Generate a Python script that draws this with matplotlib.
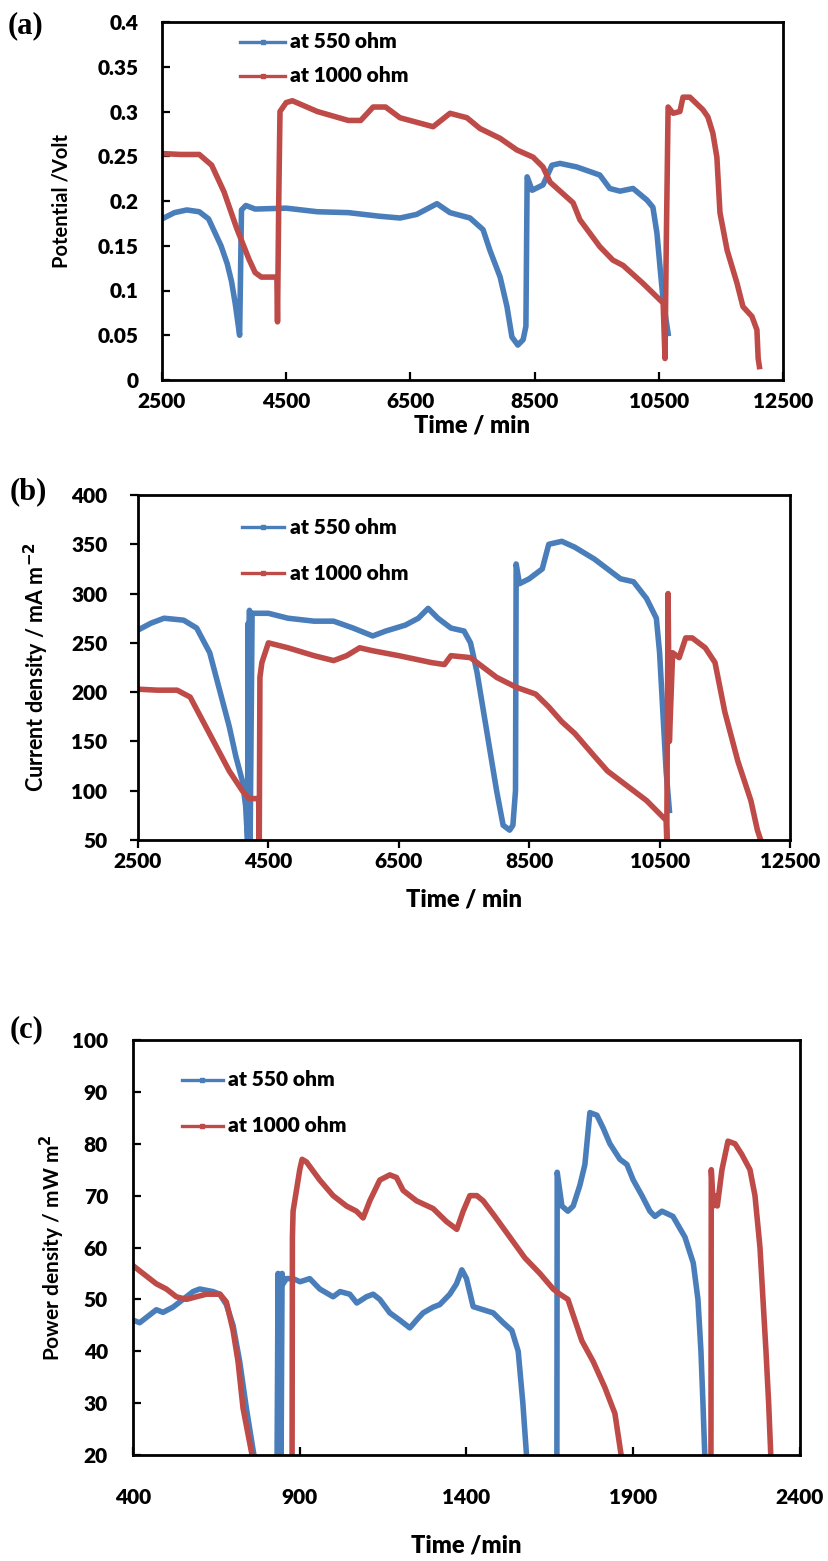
import matplotlib
matplotlib.use("Agg")
import matplotlib.pyplot as plt
import numpy as np

nan = float("nan")
# ---------------- data ----------------
# Panel (a): potential (V) vs time (min)
a_t550 = [2500, 2700, 2900, 3100, 3250, 3350, 3450, 3550, 3620, 3680, 3720, 3750, 3765, 3780, 3850, 4000,
          4500, 5000, 5500, 6000, 6333, 6600, 6928, 7138, 7460, 7670, 7780, 7945, 8055, 8135, 8230, 8315,
          8360, 8380, 8460, 8635, 8780, 8910, 9180, 9550, 9710, 9875, 10085, 10310, 10405, 10470, 10520,
          10570, 10650]
a_v550 = [0.180, 0.187, 0.190, 0.188, 0.180, 0.165, 0.150, 0.130, 0.110, 0.085, 0.065, 0.050, 0.120, 0.190,
          0.195, 0.191, 0.192, 0.188, 0.187, 0.183, 0.181, 0.185, 0.197, 0.187, 0.181, 0.168, 0.145, 0.115,
          0.082, 0.048, 0.039, 0.045, 0.060, 0.227, 0.212, 0.218, 0.240, 0.242, 0.238, 0.229, 0.214, 0.211,
          0.214, 0.201, 0.193, 0.164, 0.126, 0.089, 0.052]
a_t1000 = [2500, 2800, 3100, 3300, 3500, 3700, 3900, 4000, 4100, 4350, 4360, 4380, 4400, 4500, 4600, 5000,
           5500, 5700, 5900, 6100, 6333, 6866, 7138, 7411, 7620, 7945, 8215, 8475, 8635, 8750, 9120, 9230,
           9550, 9760, 9925, 10245, 10570, 10600, 10620, 10650, 10730, 10840, 10890, 11000, 11210, 11290,
           11370, 11435, 11485, 11600, 11760, 11855, 12000, 12080, 12100, 12120]
a_v1000 = [0.253, 0.252, 0.252, 0.240, 0.210, 0.170, 0.135, 0.120, 0.115, 0.115, 0.065, 0.200, 0.300, 0.310,
           0.312, 0.300, 0.290, 0.290, 0.305, 0.305, 0.293, 0.283, 0.298, 0.293, 0.281, 0.270, 0.257, 0.249,
           0.238, 0.221, 0.198, 0.179, 0.149, 0.134, 0.128, 0.108, 0.086, 0.024, 0.150, 0.305, 0.298, 0.300,
           0.316, 0.316, 0.302, 0.294, 0.276, 0.249, 0.187, 0.145, 0.108, 0.082, 0.071, 0.056, 0.024, 0.015]

# Panel (b): current density (mA m^-2) vs time (min)
b_t550 = [2500, 2700, 2900, 3200, 3400, 3600, 3700, 3800, 3900, 4000, 4100, 4150, 4180, 4190, 4200, 4210,
          4220, 4250, 4500, 4800, 5200, 5500, 5800, 6100, 6300, 6600, 6800, 6950, 7100, 7300, 7500, 7600,
          7700, 7800, 7900, 8000, 8100, 8200, 8250, 8290, 8300, 8350, 8500, 8700, 8800, 9000, 9200, 9500,
          9700, 9900, 10100, 10300, 10450, 10500, 10550, 10600, 10650]
b_c550 = [263, 270, 275, 273, 265, 240, 215, 190, 165, 135, 110, 85, 50, 270, 50, 283, 50, 280, 280, 275,
          272, 272, 265, 257, 262, 268, 275, 285, 275, 265, 262, 250, 220, 180, 140, 100, 65, 60, 65, 100,
          330, 310, 315, 325, 350, 353, 347, 335, 325, 315, 312, 295, 275, 240, 180, 120, 80]
b_t1000 = [2500, 2800, 3100, 3300, 3500, 3700, 3900, 4100, 4200, 4350, 4360, 4370, 4400, 4500, 4800, 5200,
           5500, 5700, 5900, 6100, 6500, 7000, 7200, 7300, 7600, 8000, 8300, 8600, 8800, 9000, 9200, 9500,
           9700, 10000, 10300, 10600, 10610, 10630, 10650, 10700, 10800, 10900, 11000, 11200, 11350, 11500,
           11700, 11900, 12000, 12050]
b_c1000 = [203, 202, 202, 195, 170, 145, 120, 100, 92, 92, 50, 215, 230, 250, 245, 237, 232, 237, 245, 242,
           237, 230, 228, 237, 235, 215, 205, 198, 185, 170, 158, 135, 120, 105, 90, 70, 50, 300, 150, 240,
           235, 255, 255, 245, 230, 180, 130, 90, 60, 50]

# Panel (c): power density (mW m^-2) vs time (min); nan = gap where the curve leaves the axes
c_t550 = [400, 420, 450, 470, 490, 520, 550, 580, 600, 640, 660, 680, 700, 720, 740, 765, nan,
          832, 835, 838, 841, 844, 847, 850, 860, 880, 901, 930, 960, 1000, 1021, 1050, 1071, 1100, 1120,
          1140, 1170, 1200, 1230, 1250, 1270, 1300, 1320, 1350, 1370, 1386, 1400, 1420, 1450, 1480, 1510,
          1536, 1555, 1569, 1581, nan,
          1671, 1672, 1686, 1704, 1720, 1740, 1755, 1770, 1791, 1810, 1830, 1860, 1881, 1900, 1926, 1950,
          1965, 1986, 2019, 2055, 2080, 2094, 2103, 2109, 2115]
c_p550 = [46, 45.5, 47, 48, 47.5, 48.5, 50, 51.5, 52, 51.5, 51, 49, 45, 38, 29, 19, nan,
          19, 55, 19, 54, 19, 55, 53, 54, 54, 53.4, 54, 52, 50.5, 51.5, 51, 49.3, 50.5, 51,
          50, 47.4, 46, 44.5, 46, 47.4, 48.5, 49, 51, 53, 55.7, 54, 48.6, 48, 47.4, 45.5,
          44, 40, 30, 19, nan,
          19, 74.5, 68, 67, 68, 72, 76, 86, 85.5, 83, 80, 77, 76, 73, 70, 67,
          66, 67, 66, 62, 57, 50, 40, 30, 19]
c_t1000 = [400, 430, 470, 500, 530, 560, 590, 620, 661, 680, 700, 715, 730, 745, 760, nan,
           877, 878, 880, 890, 900, 907, 920, 960, 1000, 1040, 1070, 1090, 1110, 1140, 1170, 1190, 1210,
           1250, 1300, 1340, 1371, 1390, 1410, 1431, 1450, 1485, 1530, 1575, 1620, 1660, 1680, 1704, 1725,
           1746, 1780, 1815, 1845, 1866, nan,
           2133, 2134, 2140, 2146, 2152, 2166, 2184, 2205, 2225, 2250, 2265, 2280, 2289, 2298, 2306, 2313]
c_p1000 = [56.5, 55, 53, 52, 50.5, 50, 50.5, 51, 51, 49.5, 44, 38, 29, 24, 19, nan,
           19, 62, 67, 71, 75, 77, 76.5, 73, 70, 68, 67, 65.7, 69, 73, 74, 73.5, 71,
           69, 67.5, 65, 63.5, 67, 70, 70, 69, 66, 62, 58, 55, 52, 51, 50, 46,
           42, 38, 33, 28, 19, nan,
           19, 75, 68, 70, 68, 75, 80.5, 80, 78, 75, 70, 60, 50, 40, 30, 19]

labels = ["at 550 ohm", "at 1000 ohm"]
a_xticks = [2500, 4500, 6500, 8500, 10500, 12500]
a_yticks = [0, 0.05, 0.1, 0.15, 0.2, 0.25, 0.3, 0.35, 0.4]
a_ytick_labels = ["0", "0.05", "0.1", "0.15", "0.2", "0.25", "0.3", "0.35", "0.4"]
b_xticks = [2500, 4500, 6500, 8500, 10500, 12500]
b_yticks = [50, 100, 150, 200, 250, 300, 350, 400]
c_xticks = [400, 900, 1400, 1900, 2400]
c_yticks = [20, 30, 40, 50, 60, 70, 80, 90, 100]

# ---------------- style ----------------
BLUE = "#4A7EBB"
RED = "#BE4B48"
FONT = "Lato"
W, H = 829, 1561
fig = plt.figure(figsize=(W / 100, H / 100), dpi=100)


def px_axes(l, r, t, b):
    ax = fig.add_axes([l / W, 1 - b / H, (r - l) / W, (b - t) / H])
    ax._px = (l, r, t, b)
    return ax


def style(ax, xt, yt, ytl, xlim, ylim, direction, xpad, ypad, xlabel, ylabel, ylab_x, xlab_y, ylab_fs,
          tag, tag_xy, leg):
    l, r, t, b = ax._px
    ax.set_xlim(*xlim)
    ax.set_ylim(*ylim)
    ax.set_xticks(xt)
    ax.set_yticks(yt)
    ax.set_xticklabels([str(v) for v in xt], fontfamily=FONT, fontweight="heavy", fontsize=15)
    ax.set_yticklabels(ytl, fontfamily=FONT, fontweight="heavy", fontsize=15)
    ax.tick_params(direction=direction, length=6, width=1.6, colors="black")
    ax.tick_params(axis="x", pad=xpad)
    ax.tick_params(axis="y", pad=ypad)
    for s in ax.spines.values():
        s.set_linewidth(2.0)
        s.set_color("black")
    fig.text(((l + r) / 2) / W, 1 - xlab_y / H, xlabel, fontfamily=FONT, fontweight="heavy", fontsize=17,
             ha="center", va="center")
    fig.text(ylab_x / W, 1 - ((t + b) / 2) / H, ylabel, fontfamily=FONT, fontweight="bold",
             fontsize=ylab_fs, ha="center", va="center", rotation=90)
    fig.text(tag_xy[0] / W, 1 - tag_xy[1] / H, tag, fontfamily="Liberation Serif", fontweight="bold",
             fontsize=22, ha="left", va="center")
    # legend drawn in pixel positions
    (hx0, hx1, tx, y0, y1) = leg
    for lab, col, yy in zip(labels, [BLUE, RED], [y0, y1]):
        fx0 = (hx0 - l) / (r - l)
        fx1 = (hx1 - l) / (r - l)
        fy = (b - yy) / (b - t)
        ax.plot([fx0, fx1], [fy, fy], color=col, lw=2.4, transform=ax.transAxes, clip_on=False)
        ax.plot([(fx0 + fx1) / 2], [fy], marker="s", ms=2.5, color=col, transform=ax.transAxes)
        ax.text((tx - l) / (r - l), fy, lab, transform=ax.transAxes, fontfamily=FONT, fontweight="heavy",
                fontsize=15, va="center", ha="left")


LW = 4.0

# (a)
ax1 = px_axes(162, 783, 22, 380)
ax1.plot(a_t550, a_v550, color=BLUE, lw=LW, solid_joinstyle="round")
ax1.plot(a_t1000, a_v1000, color=RED, lw=LW, solid_joinstyle="round")
style(ax1, a_xticks, a_yticks, a_ytick_labels, (2500, 12500), (0, 0.4), "in", 9, 17,
      "Time / min", "Potential /Volt", 62, 425, 14.5, "(a)", (8, 26), (240, 285, 290, 42, 76))

# (b)
ax2 = px_axes(138, 790, 495, 840)
ax2.plot(b_t550, b_c550, color=BLUE, lw=LW, solid_joinstyle="round")
ax2.plot(b_t1000, b_c1000, color=RED, lw=LW, solid_joinstyle="round")
style(ax2, b_xticks, b_yticks, [str(v) for v in b_yticks], (2500, 12500), (50, 400), "out", 3, 16,
      "Time / min", r"Current density / mA m$^{\mathbf{-2}}$", 36, 900, 15.5, "(b)", (10, 492),
      (242, 284, 290, 527, 573))

# (c)
ax3 = px_axes(133, 800, 1040, 1455)
ax3.plot(c_t550, c_p550, color=BLUE, lw=LW, solid_joinstyle="round")
ax3.plot(c_t1000, c_p1000, color=RED, lw=LW, solid_joinstyle="round")
style(ax3, c_xticks, c_yticks, [str(v) for v in c_yticks], (400, 2400), (20, 100), "in", 24, 18,
      "Time /min", r"Power density / mW m$^{\mathbf{2}}$", 52, 1545, 15, "(c)", (10, 1030),
      (182, 223, 228, 1080, 1126))

fig.savefig("out.png", dpi=100, facecolor="white")
